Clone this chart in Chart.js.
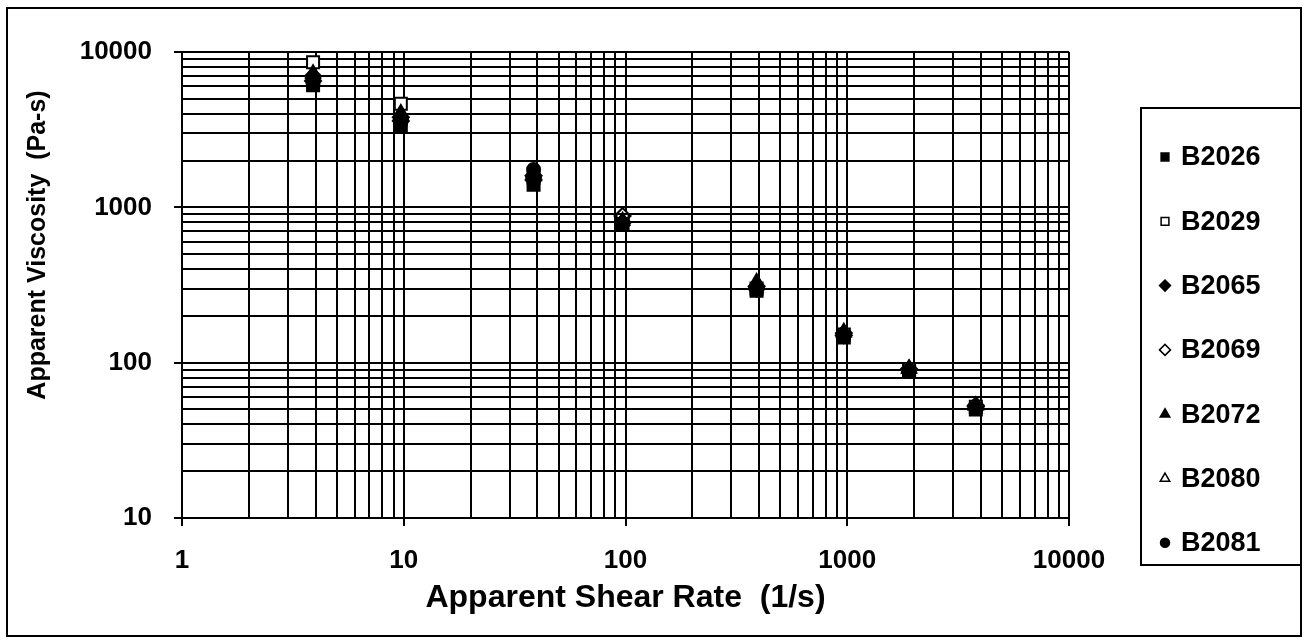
<!DOCTYPE html>
<html><head><meta charset="utf-8">
<script src="https://cdn.jsdelivr.net/npm/chart.js@4"></script>
<style>html,body{margin:0;padding:0;background:#fff}#wrap{position:relative;width:1307px;height:644px}</style>
</head><body><div id="wrap"><canvas id="c" width="1307" height="644"></canvas></div>
<script>
// ---- data ----
const shearRate = [3.9, 9.7, 38.5, 97, 390, 965, 1900, 3800];
const seriesNames = ['B2026', 'B2029', 'B2065', 'B2069', 'B2072', 'B2080', 'B2081'];
const B2026 = [6100, 3300, 1400, 780, 290, 145, 87, 50];
const B2029 = [8600, 4650, 1550, 830, 300, 152, 90, 52];
const B2065 = [6500, 3600, 1500, 800, 300, 150, 90, 52];
const B2069 = [7000, 3800, 1600, 880, 310, 155, 91, 53];
const B2072 = [7300, 4050, 1650, 820, 330, 158, 92, 53];
const B2080 = [7200, 3900, 1650, 840, 315, 156, 91, 53];
const B2081 = [6300, 3500, 1750, 790, 295, 150, 88, 51];
const xTickLabels = ['1', '10', '100', '1000', '10000'];
const yTickLabels = ['10', '100', '1000', '10000'];

const seriesValues = [B2026, B2029, B2065, B2069, B2072, B2080, B2081];
const markerStyles = ['rect', 'rect', 'rectRot', 'rectRot', 'triangle', 'triangle', 'circle'];
const markerFilled = [true, false, true, false, true, false, true];

function gridValues(labels) {
  const out = [];
  const majors = labels.map(Number);
  for (let i = 0; i < majors.length - 1; i++) {
    for (let m = 1; m <= 9; m++) out.push(majors[i] * m);
  }
  out.push(majors[majors.length - 1]);
  return out;
}
const xGrid = gridValues(xTickLabels);
const yGrid = gridValues(yTickLabels);

const FONT = "'Liberation Sans', Arial, sans-serif";
const plotRadius = {rect: 8.5, rectRot: 8, triangle: 8, circle: 6.5};
const legendRadius = {rect: 5.5, rectRot: 5.5, triangle: 5.5, circle: 4.5};

const datasets = seriesNames.map((name, i) => ({
  label: name,
  data: shearRate.map((x, j) => ({x: x, y: seriesValues[i][j]})),
  pointStyle: markerStyles[i],
  pointRadius: plotRadius[markerStyles[i]],
  pointBackgroundColor: markerFilled[i] ? '#000' : '#fff',
  pointBorderColor: '#000',
  pointBorderWidth: 2,
  order: markerFilled[i] ? 1 : 2,
  showLine: false
}));

const framePlugin = {
  id: 'framePlugin',
  afterDraw(chart) {
    const ctx = chart.ctx;
    ctx.save();
    ctx.strokeStyle = '#000';
    ctx.lineWidth = 2;
    ctx.strokeRect(7, 8, 1294, 628);
    // legend box
    const lb = {left: 1141, top: 108, right: 1301, bottom: 565};
    ctx.fillStyle = '#fff';
    ctx.fillRect(lb.left, lb.top, lb.right - lb.left, lb.bottom - lb.top);
    ctx.strokeRect(lb.left, lb.top, lb.right - lb.left, lb.bottom - lb.top);
    ctx.font = "bold 27px " + FONT;
    ctx.textBaseline = 'middle';
    ctx.textAlign = 'left';
    chart.data.datasets.forEach((ds, i) => {
      const y = 157 + i * 64.3;
      ctx.fillStyle = ds.pointBackgroundColor;
      ctx.strokeStyle = '#000';
      ctx.lineWidth = 1.5;
      Chart.helpers.drawPoint(ctx, {pointStyle: ds.pointStyle, radius: legendRadius[ds.pointStyle], borderWidth: 1.5, rotation: 0}, 1165, y);
      ctx.fillStyle = '#000';
      ctx.fillText(ds.label, 1181, y + 1);
    });
    // y axis title
    ctx.save();
    ctx.translate(38, 245);
    ctx.rotate(-Math.PI / 2);
    ctx.textAlign = 'center';
    ctx.textBaseline = 'middle';
    ctx.font = "bold 25px " + FONT;
    ctx.fillStyle = '#000';
    ctx.fillText('Apparent Viscosity  (Pa-s)', 0, 0);
    ctx.restore();
    ctx.restore();
  }
};

new Chart(document.getElementById('c'), {
  type: 'scatter',
  data: {datasets: datasets},
  options: {
    responsive: false,
    animation: false,
    layout: {padding: {top: 52, right: 238, bottom: 8, left: 8}},
    plugins: {legend: {display: false}, tooltip: {enabled: false}},
    scales: {
      x: {
        type: 'logarithmic',
        min: 1, max: 10000,
        afterBuildTicks: (axis) => { axis.ticks = xGrid.map(v => ({value: v})); },
        afterFit: (axis) => { axis.height = 118; },
        ticks: {
          autoSkip: false, maxRotation: 0, padding: 19, color: '#000',
          font: {family: FONT, size: 26, weight: 'bold'},
          callback: (v) => { const s = String(v); return xTickLabels.includes(s) ? s : ''; }
        },
        grid: {
          color: '#000', lineWidth: 2, tickLength: 8,
          tickColor: (c) => xTickLabels.includes(String(c.tick && c.tick.value)) ? '#000' : 'rgba(0,0,0,0)'
        },
        border: {color: '#000', width: 2},
        title: {display: true, text: 'Apparent Shear Rate  (1/s)', color: '#000',
          font: {family: FONT, size: 32, weight: 'bold'}, padding: {top: 0, bottom: 19}}
      },
      y: {
        type: 'logarithmic',
        min: 10, max: 10000,
        afterBuildTicks: (axis) => { axis.ticks = yGrid.map(v => ({value: v})); },
        afterFit: (axis) => { axis.width = 174; },
        ticks: {
          autoSkip: false, padding: 22, color: '#000',
          font: {family: FONT, size: 26, weight: 'bold'},
          callback: (v) => { const s = String(v); return yTickLabels.includes(s) ? s : ''; }
        },
        grid: {
          color: '#000', lineWidth: 2, tickLength: 8,
          tickColor: (c) => yTickLabels.includes(String(c.tick && c.tick.value)) ? '#000' : 'rgba(0,0,0,0)'
        },
        border: {color: '#000', width: 2}
      }
    }
  },
  plugins: [framePlugin]
});
</script>
</body></html>
